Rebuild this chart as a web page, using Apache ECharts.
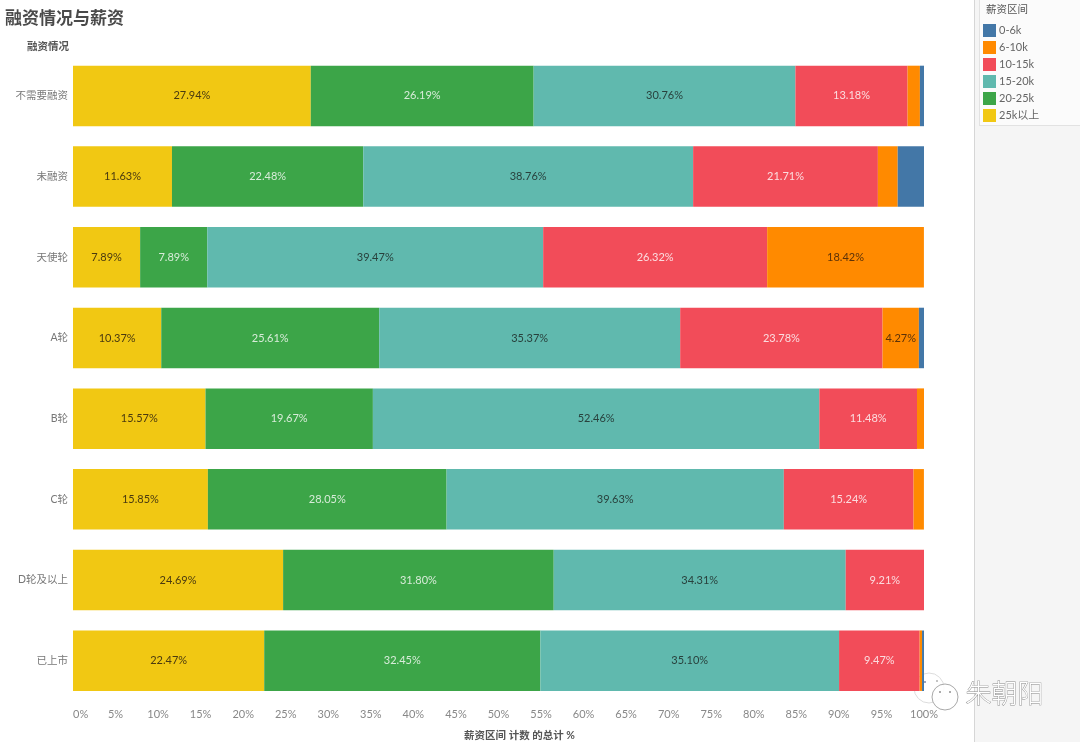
<!DOCTYPE html>
<html>
<head>
<meta charset="utf-8">
<script src="https://cdn.jsdelivr.net/npm/echarts@6/dist/echarts.min.js"></script>
<style>
html,body{margin:0;padding:0;background:#fff;}
#side{position:absolute;left:974px;top:0;width:106px;height:742px;background:#f5f5f5;border-left:1px solid #d6d6d6;box-sizing:border-box;}
#side div{position:absolute;left:4px;top:0;width:102px;height:126px;background:#fbfbfb;border-left:1px solid #e2e2e2;border-bottom:1px solid #e2e2e2;box-sizing:border-box;}
#main{position:absolute;left:0;top:0;width:1080px;height:742px;}
</style>
</head>
<body>
<div id="side"><div></div></div>
<div id="main"></div>
<script>
var fontName = 'Lato, "Noto Sans CJK SC", sans-serif';
var rounds = ['不需要融资','未融资','天使轮','A轮','B轮','C轮','D轮及以上','已上市'];
var xTicks = 5;
var s25up  = [27.94,11.63,7.89,10.37,15.57,15.85,24.69,22.47];
var s20_25 = [26.19,22.48,7.89,25.61,19.67,28.05,31.80,32.45];
var s15_20 = [30.76,38.76,39.47,35.37,52.46,39.63,34.31,35.10];
var s10_15 = [13.18,21.71,26.32,23.78,11.48,15.24,9.21,9.47];
var s6_10  = [1.45,2.33,18.42,4.27,0.82,1.22,0,0.28];
var s0_6   = [0.48,3.10,0,0.61,0,0,0,0.23];

function makeSeries(name, values, color, textColor){
	return {
		name: name,
		type: 'bar',
		stack: 'total',
		barWidth: 60.5,
		data: values,
		itemStyle: {color: color},
		label: {
			show: true,
			position: 'inside',
			fontFamily: fontName,
			fontSize: 11,
			color: textColor,
			formatter: function(p){
				return p.value >= 4 ? p.value.toFixed(2) + '%' : '';
			}
		}
	};
}

var myChart = echarts.init(document.getElementById('main'), null, {renderer: 'canvas'});
var option = {
	animation: false,
	backgroundColor: 'transparent',
	title: {
		text: '融资情况与薪资',
		left: 5,
		top: 10,
		padding: 0,
		textStyle: {fontFamily: fontName, fontSize: 17, fontWeight: 'bold', color: '#4a4a4a'}
	},
	legend: {
		orient: 'vertical',
		left: 983,
		top: 24,
		icon: 'rect',
		itemWidth: 13,
		itemHeight: 13,
		itemGap: 4,
		padding: 0,
		data: ['0-6k','6-10k','10-15k','15-20k','20-25k','25k以上'],
		textStyle: {fontFamily: fontName, fontSize: 11, color: '#666', padding: [2,0,0,-2]}
	},
	grid: {left: 73, right: 156, top: 55.6, height: 645.4, outerBoundsMode: 'none'},
	xAxis: {
		type: 'value',
		min: 0,
		max: 100,
		interval: xTicks,
		name: '薪资区间 计数 的总计 %',
		nameLocation: 'middle',
		nameGap: 29,
		nameTextStyle: {fontFamily: fontName, fontSize: 10.5, fontWeight: 'bold', color: '#555', padding: [0,0,0,42]},
		axisLine: {show: false},
		axisTick: {show: false},
		splitLine: {show: false},
		axisLabel: {
			formatter: '{value}%',
			margin: 8,
			alignMinLabel: 'left',
			fontFamily: fontName,
			fontSize: 11,
			color: '#888',
			showMaxLabel: true
		}
	},
	yAxis: {
		type: 'category',
		inverse: true,
		data: rounds,
		axisLine: {show: false},
		axisTick: {show: false},
		axisLabel: {margin: 5, fontFamily: fontName, fontSize: 10.5, color: '#777'}
	},
	series: [
		makeSeries('25k以上', s25up, '#f1c813', '#4a3a10'),
		makeSeries('20-25k', s20_25, '#3ca548', '#d8ecd9'),
		makeSeries('15-20k', s15_20, '#60b9ae', '#28403c'),
		makeSeries('10-15k', s10_15, '#f24c59', '#fbdcdf'),
		makeSeries('6-10k', s6_10, '#ff8a00', '#5c3208'),
		makeSeries('0-6k', s0_6, '#4377a7', '#fff')
	],
	graphic: [
		{type: 'text', left: 986, top: 4, style: {text: '薪资区间', fontFamily: fontName, fontSize: 10.5, fill: '#555'}},
		{type: 'text', left: 27, top: 41, style: {text: '融资情况', fontFamily: fontName, fontSize: 10.5, fontWeight: 'bold', fill: '#555'}},
		// watermark
		{type: 'circle', shape: {cx: 929, cy: 688, r: 15}, style: {fill: 'rgba(255,255,255,0.92)', stroke: '#dcdcdc', lineWidth: 1}},
		{type: 'circle', shape: {cx: 945, cy: 697, r: 13}, style: {fill: 'rgba(255,255,255,0.9)', stroke: '#a8a8a8', lineWidth: 1}},
		{type: 'circle', shape: {cx: 925, cy: 682, r: 1}, style: {fill: '#7a86a8'}},
		{type: 'circle', shape: {cx: 937, cy: 681, r: 1}, style: {fill: '#b0b0b0'}},
		{type: 'circle', shape: {cx: 940, cy: 692, r: 1}, style: {fill: '#909090'}},
		{type: 'circle', shape: {cx: 950, cy: 692, r: 1}, style: {fill: '#909090'}},
		{type: 'text', left: 965, top: 680, style: {text: '朱朝阳', fontFamily: '"Noto Sans CJK SC"', fontSize: 26, fontWeight: 200, fill: '#fff', stroke: '#8a8a8a', lineWidth: 0.8}}
	]
};
myChart.setOption(option);
</script>
</body>
</html>
